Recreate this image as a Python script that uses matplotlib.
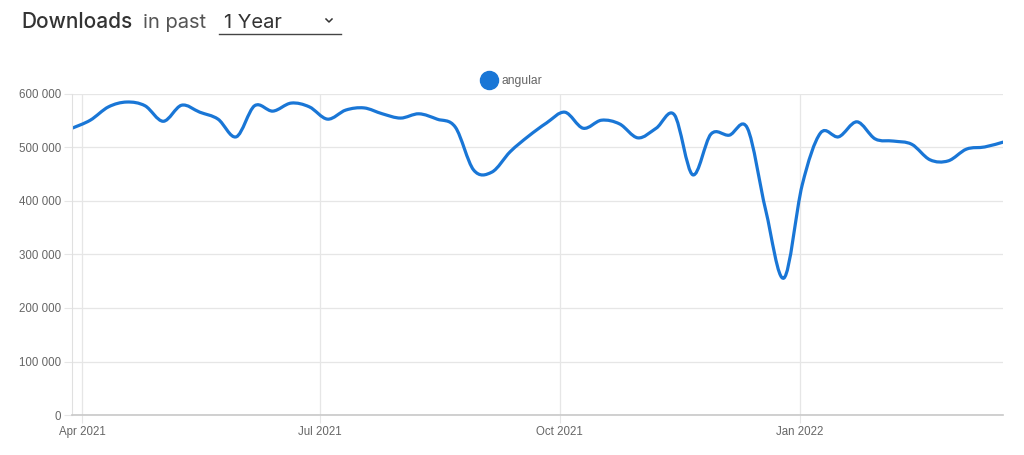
import numpy as np
import pandas as pd
import matplotlib
matplotlib.use('Agg')
import matplotlib.pyplot as plt
import matplotlib.dates as mdates
from matplotlib.path import Path
from matplotlib.patches import PathPatch
from matplotlib.lines import Line2D
from matplotlib.ticker import FuncFormatter

# weekly downloads
weeks = pd.date_range('2021-03-28', periods=52, freq='7D')
downloads = [536000, 551000, 576000, 585000, 578000, 549000, 579000, 566000,
             553000, 520000, 578000, 568000, 583000, 576000, 553000, 570000,
             574000, 563000, 555000, 563000, 553000, 538000, 458000, 454000,
             492000, 521000, 546000, 566000, 536000, 551000, 544000, 518000,
             536000, 561000, 449000, 525000, 523000, 536000, 383000, 256000,
             430000, 527000, 520000, 548000, 516000, 512000, 506000, 477000,
             475000, 497000, 501000, 510000]
package = 'angular'
yticks = [0, 100000, 200000, 300000, 400000, 500000, 600000]
xtick_dates = ['2021-04-01', '2021-07-01', '2021-10-01', '2022-01-01']

line_color = '#1976d6'
grid_color = '#e6e6e6'
label_color = '#666666'


def smooth_path(x, y):
    """cubic bezier through every point (catmull-rom style control points)"""
    x = np.asarray(x, float)
    y = np.asarray(y, float)
    px = np.concatenate([[x[0]], x, [x[-1]]])
    py = np.concatenate([[y[0]], y, [y[-1]]])
    verts = [(x[0], y[0])]
    codes = [Path.MOVETO]
    for i in range(len(x) - 1):
        j = i + 1
        c1 = (x[i] + (px[j + 1] - px[j - 1]) / 6, y[i] + (py[j + 1] - py[j - 1]) / 6)
        c2 = (x[i + 1] - (px[j + 2] - px[j]) / 6, y[i + 1] - (py[j + 2] - py[j]) / 6)
        verts += [c1, c2, (x[i + 1], y[i + 1])]
        codes += [Path.CURVE4] * 3
    return Path(verts, codes)


fig = plt.figure(figsize=(10.24, 4.55), dpi=100)
ax = fig.add_axes([72 / 1024, 1 - 415 / 455, (1003 - 72) / 1024, (415 - 94) / 455])

xs = mdates.date2num(weeks.to_pydatetime())
patch = PathPatch(smooth_path(xs, downloads), facecolor='none', edgecolor=line_color,
                  lw=2.3, capstyle='round', joinstyle='round')
ax.add_patch(patch)

ax.set_xlim(xs[0], xs[-1])
ax.set_ylim(0, 600000)

ax.set_yticks(yticks)
ax.yaxis.set_major_formatter(FuncFormatter(lambda v, p: '{:,.0f}'.format(v).replace(',', ' ')))
ax.set_xticks(mdates.date2num(pd.to_datetime(xtick_dates).to_pydatetime()))
ax.xaxis.set_major_formatter(mdates.DateFormatter('%b %Y'))

ax.grid(True, color=grid_color, lw=0.9)
ax.set_axisbelow(True)
for side in ['top', 'right']:
    ax.spines[side].set_visible(False)
ax.spines['left'].set_color('#e0e0e0')
ax.spines['bottom'].set_color('#c8c8c8')
ax.spines['bottom'].set_linewidth(1.2)
ax.tick_params(axis='both', length=6, color=grid_color, labelcolor=label_color,
               labelsize=8.3, pad=2)
for lab in ax.get_xticklabels() + ax.get_yticklabels():
    lab.set_fontfamily('Liberation Sans')

handle = Line2D([], [], marker='o', ls='none', color=line_color, markersize=13)
leg = ax.legend([handle], [package], loc='lower center', bbox_to_anchor=(0.47, 1.0),
                frameon=False, handletextpad=0.1, borderaxespad=0.2,
                prop={'family': 'Liberation Sans', 'size': 8.7})
for t in leg.get_texts():
    t.set_color(label_color)

# header
fig.text(21 / 1024, 1 - 28 / 455, 'Downloads', fontsize=15, fontweight='medium',
         family='Inter', color='#333333', va='baseline')
fig.text(143 / 1024, 1 - 28 / 455, 'in past', fontsize=14.5, family='Inter',
         color='#555555', va='baseline')
fig.text(224 / 1024, 1 - 28 / 455, '1 Year', fontsize=14.5, family='Inter',
         color='#333333', va='baseline')
fig.add_artist(Line2D([219 / 1024, 341 / 1024], [1 - 33.5 / 455, 1 - 33.5 / 455],
                      color='#444444', lw=1.0))
fig.add_artist(Line2D([326 / 1024, 329 / 1024, 332 / 1024],
                      [1 - 19 / 455, 1 - 22 / 455, 1 - 19 / 455],
                      color='#333333', lw=1.1))

fig.savefig('out.png', dpi=100)
